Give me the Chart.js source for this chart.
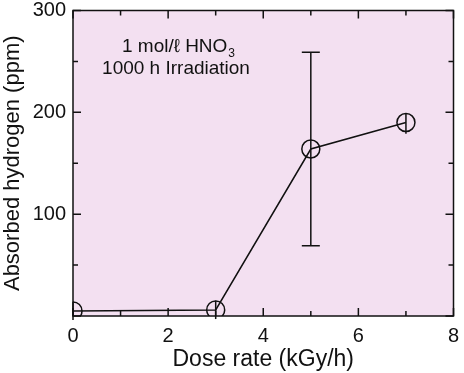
<!DOCTYPE html>
<html>
<head>
<meta charset="utf-8">
<script src="https://cdn.jsdelivr.net/npm/chart.js@4.4.1/dist/chart.umd.min.js"></script>
<style>
  html, body { margin: 0; padding: 0; background: #fff; }
  #wrap { width: 464px; height: 373px; }
</style>
</head>
<body>
<div id="wrap"><canvas id="myChart" width="464" height="373"></canvas></div>
<script>
const doseRate = [0, 3, 5, 7];
const hydrogen = [5, 6, 164, 190];
const errLow = [-4, -3, 69, 179];
const errHigh = [14, 15, 259, 199];
const xTicks = [0, 2, 4, 6, 8];
const yTicks = [100, 200, 300];

const FONT = "'Liberation Sans', Arial, sans-serif";

// pink plot background + frame + inward ticks + error bars + note
const framePlugin = {
  id: "frame",
  beforeDraw(chart) {
    const { ctx, chartArea: a } = chart;
    ctx.save();
    ctx.fillStyle = "#f3e0f1";
    ctx.fillRect(a.left, a.top, a.right - a.left, a.bottom - a.top);
    ctx.restore();
  },
  afterDatasetsDraw(chart) {
    const { ctx, chartArea: a, scales } = chart;
    const xs = scales.x;
    const ys = scales.y;
    ctx.save();
    ctx.strokeStyle = "#111";
    ctx.lineWidth = 1.5;

    // error bars
    doseRate.forEach((d, i) => {
      const px = xs.getPixelForValue(d);
      const lo = ys.getPixelForValue(errLow[i]);
      const hi = ys.getPixelForValue(errHigh[i]);
      ctx.beginPath();
      ctx.moveTo(px, lo);
      ctx.lineTo(px, hi);
      if (Math.abs(lo - hi) > 24) {
        ctx.moveTo(px - 9, lo);
        ctx.lineTo(px + 9, lo);
        ctx.moveTo(px - 9, hi);
        ctx.lineTo(px + 9, hi);
      }
      ctx.stroke();
    });

    // frame
    ctx.strokeRect(a.left, a.top, a.right - a.left, a.bottom - a.top);

    // x ticks (major every 2, minor every 1)
    for (let v = 0; v <= 8; v++) {
      const px = xs.getPixelForValue(v);
      const len = v % 2 === 0 ? 8 : 5;
      ctx.beginPath();
      ctx.moveTo(px, a.bottom);
      ctx.lineTo(px, a.bottom - len);
      ctx.moveTo(px, a.top);
      ctx.lineTo(px, a.top + len);
      ctx.stroke();
    }
    // y ticks (major every 100, minor every 50)
    for (let v = 0; v <= 300; v += 50) {
      const py = ys.getPixelForValue(v);
      const len = v % 100 === 0 ? 8 : 5;
      ctx.beginPath();
      ctx.moveTo(a.left, py);
      ctx.lineTo(a.left + len, py);
      ctx.moveTo(a.right, py);
      ctx.lineTo(a.right - len, py);
      ctx.stroke();
    }

    // note
    ctx.fillStyle = "#111";
    ctx.textBaseline = "alphabetic";
    ctx.font = "19px " + FONT;
    const l1 = "1 mol/ℓ HNO";
    const w1 = ctx.measureText(l1).width;
    ctx.font = "12px " + FONT;
    const w3 = ctx.measureText("3").width;
    const cx = 178;
    let x1 = cx - (w1 + w3) / 2;
    ctx.font = "19px " + FONT;
    ctx.textAlign = "left";
    ctx.fillText(l1, x1, 52);
    ctx.font = "12px " + FONT;
    ctx.fillText("3", x1 + w1 + 1, 57);
    ctx.font = "19px " + FONT;
    ctx.textAlign = "center";
    ctx.fillText("1000 h Irradiation", cx - 2, 74);
    ctx.restore();
  },
};

new Chart(document.getElementById("myChart"), {
  type: "scatter",
  data: {
    datasets: [
      {
        data: doseRate.map((d, i) => ({ x: d, y: hydrogen[i] })),
        showLine: true,
        borderColor: "#111",
        borderWidth: 1.5,
        pointRadius: 9,
        pointHoverRadius: 9,
        pointBackgroundColor: "rgba(0,0,0,0)",
        pointBorderColor: "#111",
        pointBorderWidth: 1.5,
      },
    ],
  },
  options: {
    responsive: false,
    animation: false,
    layout: { padding: { top: 10, right: 5, left: 0, bottom: 0 } },
    plugins: {
      legend: { display: false },
      tooltip: { enabled: false },
    },
    scales: {
      x: {
        type: "linear",
        min: 0,
        max: 8,
        afterFit: (s) => {
          s.height = 57;
          s.paddingLeft = 0;
          s.paddingRight = 0;
        },
        afterBuildTicks: (s) => { s.ticks = xTicks.map((v) => ({ value: v })); },
        grid: { display: false, drawTicks: false },
        border: { display: false },
        ticks: { color: "#111", font: { family: FONT, size: 20 }, padding: 8 },
        title: {
          display: true,
          text: "Dose rate (kGy/h)",
          color: "#111",
          font: { family: FONT, size: 23 },
          padding: { top: 0, bottom: 0 },
        },
      },
      y: {
        min: 0,
        max: 300,
        afterFit: (s) => {
          s.width = 73;
          s.paddingTop = 0;
          s.paddingBottom = 0;
        },
        afterBuildTicks: (s) => { s.ticks = yTicks.map((v) => ({ value: v })); },
        grid: { display: false, drawTicks: false },
        border: { display: false },
        ticks: { color: "#111", font: { family: FONT, size: 20 }, padding: 7 },
        title: {
          display: true,
          text: "Absorbed hydrogen (ppm)",
          color: "#111",
          font: { family: FONT, size: 22 },
          padding: { top: 0, bottom: 0 },
        },
      },
    },
  },
  plugins: [framePlugin],
});
</script>
</body>
</html>
